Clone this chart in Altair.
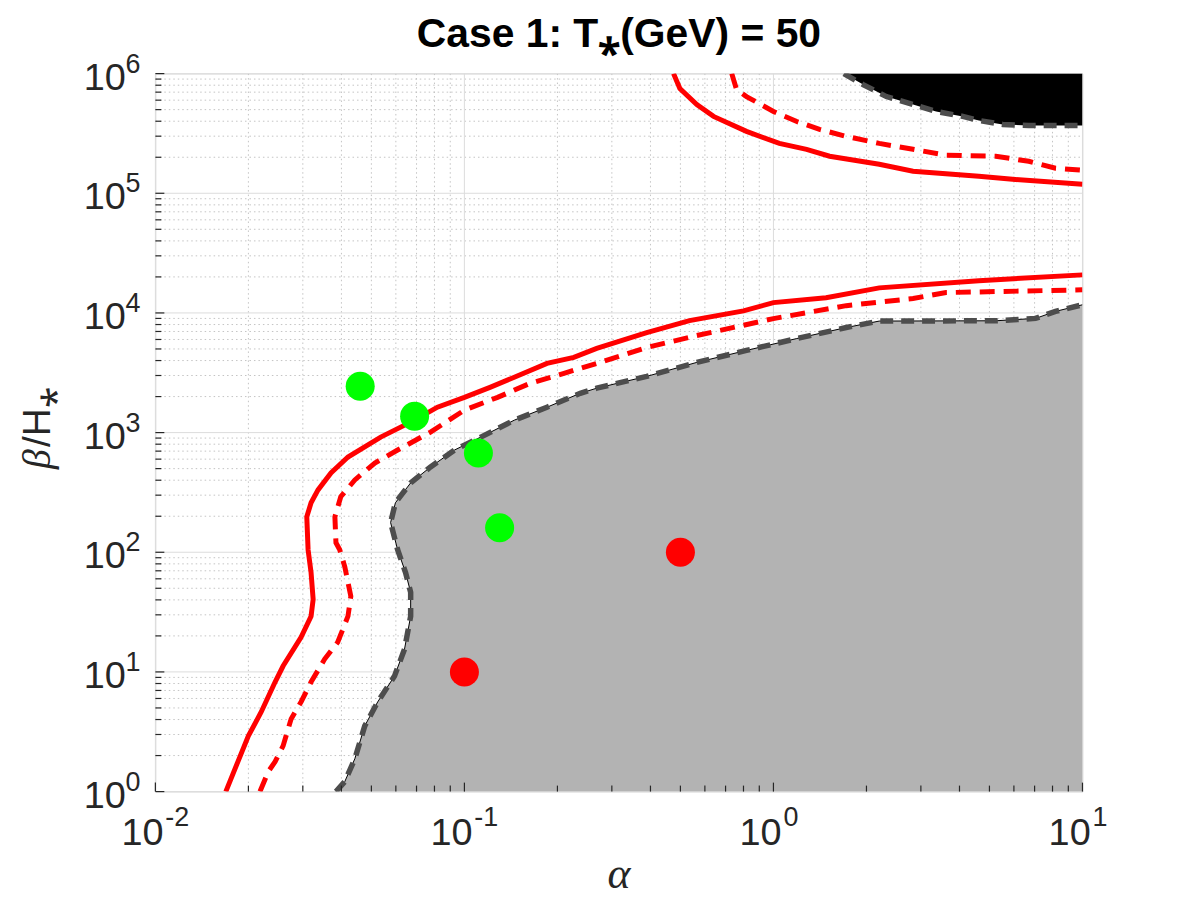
import altair as alt
import pandas as pd

W, H = 931, 721

# ---------------- data ----------------
RED_SOLID_LO_A = [0.0169, 0.0185, 0.0200, 0.0220, 0.0244, 0.0259, 0.0296, 0.0319, 0.0324, 0.0319,
                  0.0312, 0.0309, 0.0319, 0.0336, 0.0370, 0.0420, 0.0536, 0.0690, 0.0818, 0.100,
                  0.121, 0.145, 0.185, 0.226, 0.268, 0.389, 0.535, 0.80, 1.0, 1.48, 2.20, 4.62, 10]
RED_SOLID_LO_B = [1, 1.78, 2.92, 4.63, 8.23, 11.2, 19.5, 29.2, 40.4, 67.7,
                  105, 198, 259, 332, 460, 625, 917, 1270, 1630, 1970,
                  2390, 2900, 3790, 4250, 5050, 6860, 8630, 10400, 12200, 13400, 16200, 18600, 20800]
RED_DASH_LO_A = [0.0218, 0.0232, 0.0244, 0.0259, 0.0275, 0.0296, 0.0319, 0.0353, 0.0389, 0.0420,
                 0.0429, 0.0410, 0.0395, 0.0384, 0.0381, 0.0398, 0.0442, 0.0513, 0.0608, 0.0777,
                 0.100, 0.128, 0.163, 0.210, 0.268, 0.389, 0.565, 1.0, 1.72, 2.83, 3.62, 10]
RED_DASH_LO_B = [1, 1.47, 1.78, 2.41, 4.05, 5.61, 8.23, 12.8, 17.7, 29.2,
                 42.8, 76, 105, 120, 198, 291, 402, 557, 715, 1010,
                 1540, 1970, 2580, 3130, 3790, 5150, 6470, 8970, 11500, 13200, 14800, 15600]
RED_SOLID_HI_A = [0.475, 0.498, 0.565, 0.640, 0.818, 1.045, 1.28, 1.52, 2.20, 2.83, 4.62, 5.94, 10]
RED_SOLID_HI_B = [1e6, 7.5e5, 5.52e5, 4.39e5, 3.29e5, 2.61e5, 2.33e5, 2.04e5, 1.75e5, 1.53e5,
                  1.39e5, 1.31e5, 1.19e5]
RED_DASH_HI_A = [0.733, 0.760, 0.818, 1.0, 1.19, 1.41, 1.72, 2.20, 2.83, 3.62, 5.24, 6.70, 8.18, 10]
RED_DASH_HI_B = [1e6, 7.36e5, 6.43e5, 4.83e5, 3.98e5, 3.42e5, 2.99e5, 2.61e5, 2.33e5, 2.08e5,
                 2.04e5, 1.85e5, 1.62e5, 1.56e5]
GREY_A = [0.0384, 0.0410, 0.0442, 0.0476, 0.0524, 0.0594, 0.0640, 0.0670, 0.0670, 0.0645,
          0.0608, 0.0577, 0.0598, 0.0670, 0.0777, 0.0929, 0.113, 0.145, 0.185, 0.237,
          0.268, 0.389, 0.565, 0.818, 1.19, 1.72, 2.20, 5.24, 7.05, 8.18, 10]
GREY_B = [1, 1.21, 1.88, 3.54, 5.61, 9.23, 15.5, 29.2, 46.2, 67.7,
          105, 177, 259, 380, 516, 715, 917, 1270, 1630, 2130,
          2350, 2950, 3860, 4860, 6110, 7550, 8550, 8600, 9000, 10300, 11700]
BLACK_A = [1.69, 1.95, 2.32, 2.83, 3.36, 4.10, 4.62, 5.52, 6.70, 10]
BLACK_B = [1e6, 8.1e5, 6.43e5, 5.52e5, 4.83e5, 4.39e5, 4.06e5, 3.76e5, 3.69e5, 3.69e5]
GREEN_A = [0.046, 0.069, 0.111, 0.130]
GREEN_B = [2440, 1370, 675, 160]
REDPT_A = [0.5, 0.1]
REDPT_B = [100, 10]

A_MAX, B_MAX = 10, 1e6

X_MAJOR = [0.01, 0.1, 1, 10]
X_EXP = ["-2", "-1", "0", "1"]
Y_MAJOR = [1, 10, 100, 1e3, 1e4, 1e5, 1e6]
Y_EXP = ["0", "1", "2", "3", "4", "5", "6"]
MULTS = [2, 3, 4, 5, 6, 7, 8, 9]
X_MINOR = [m * d for d in [0.01, 0.1, 1] for m in MULTS]
Y_MINOR = [m * d for d in [1, 10, 100, 1e3, 1e4, 1e5] for m in MULTS]

TITLE = "Case 1: T⁎(GeV) = 50"


def frame(a, b):
    return pd.DataFrame({"a": a, "b": b, "i": list(range(len(a)))})


XS = alt.Scale(type="log", domain=[0.01, 10])
YS = alt.Scale(type="log", domain=[1, 1e6])
INK = "#262626"
FONT = "Liberation Sans"

XAXIS = alt.Axis(grid=False, ticks=False, labels=False, domain=True, domainColor=INK,
                 domainWidth=1.3, zindex=1, title="")
YAXIS = alt.Axis(grid=False, ticks=False, labels=False, domain=True, domainColor=INK,
                 domainWidth=1.3, zindex=1, title="")


def X(axis=None, f="a"):
    return alt.X(f"{f}:Q", scale=XS, axis=axis)


def Y(axis=None, f="b"):
    return alt.Y(f"{f}:Q", scale=YS, axis=axis)


xminor = pd.DataFrame({"a": X_MINOR})
yminor = pd.DataFrame({"b": Y_MINOR})
xmajor = pd.DataFrame({"a": X_MAJOR, "e": X_EXP})
ymajor = pd.DataFrame({"b": Y_MAJOR, "e": Y_EXP})

layers = []
layers.append(alt.Chart(xminor).mark_rule(color="#c4c4c4", strokeWidth=1, strokeDash=[1.5, 3])
              .encode(x=X(), y=alt.value(0), y2=alt.value(H)))
layers.append(alt.Chart(yminor).mark_rule(color="#c4c4c4", strokeWidth=1, strokeDash=[1.5, 3])
              .encode(y=Y(), x=alt.value(0), x2=alt.value(W)))
layers.append(alt.Chart(xmajor).mark_rule(color="#dcdcdc", strokeWidth=1)
              .encode(x=X(XAXIS), y=alt.value(0), y2=alt.value(H)))
layers.append(alt.Chart(ymajor).mark_rule(color="#dcdcdc", strokeWidth=1)
              .encode(y=Y(YAXIS), x=alt.value(0), x2=alt.value(W)))

grey = frame(GREY_A, GREY_B)
black = frame(BLACK_A, BLACK_B)
layers.append(alt.Chart(grey).transform_calculate(a2=str(A_MAX))
              .mark_area(orient="horizontal", color="#b3b3b3", opacity=1, clip=True)
              .encode(y=Y(), x=X(), x2="a2:Q"))
layers.append(alt.Chart(black).transform_calculate(b2=str(B_MAX))
              .mark_area(orient="vertical", color="black", opacity=1, clip=True)
              .encode(x=X(), y=Y(), y2="b2:Q"))
layers.append(alt.Chart(grey).mark_line(color="black", strokeWidth=1, clip=True)
              .encode(x=X(), y=Y(), order=alt.Order("i:Q")))
for df in (grey, black):
    layers.append(alt.Chart(df).mark_line(color="#4d4d4d", strokeWidth=5.5, strokeDash=[13, 8], clip=True)
                  .encode(x=X(), y=Y(), order=alt.Order("i:Q")))

for a, b, dash in ((RED_SOLID_LO_A, RED_SOLID_LO_B, False), (RED_DASH_LO_A, RED_DASH_LO_B, True),
                   (RED_SOLID_HI_A, RED_SOLID_HI_B, False), (RED_DASH_HI_A, RED_DASH_HI_B, True)):
    if dash:
        mk = alt.Chart(frame(a, b)).mark_line(color="#ff0000", strokeWidth=5, strokeDash=[15, 9], clip=True)
    else:
        mk = alt.Chart(frame(a, b)).mark_line(color="#ff0000", strokeWidth=5, clip=True)
    layers.append(mk.encode(x=X(), y=Y(), order=alt.Order("i:Q")))

layers.append(alt.Chart(frame(GREEN_A, GREEN_B)).mark_circle(size=850, color="#00ff00", opacity=1)
              .encode(x=X(), y=Y()))
layers.append(alt.Chart(frame(REDPT_A, REDPT_B)).mark_circle(size=850, color="#ff0000", opacity=1)
              .encode(x=X(), y=Y()))

# inward ticks
layers.append(alt.Chart(xmajor).mark_rule(color=INK, strokeWidth=1.2)
              .encode(x=X(), y=alt.value(H), y2=alt.value(H - 9)))
layers.append(alt.Chart(xminor).mark_rule(color=INK, strokeWidth=1.2)
              .encode(x=X(), y=alt.value(H), y2=alt.value(H - 6)))
layers.append(alt.Chart(ymajor).mark_rule(color=INK, strokeWidth=1.2)
              .encode(y=Y(), x=alt.value(0), x2=alt.value(9)))
layers.append(alt.Chart(yminor).mark_rule(color=INK, strokeWidth=1.2)
              .encode(y=Y(), x=alt.value(0), x2=alt.value(6)))

# tick labels: "10" plus raised exponent (both left-anchored)
layers.append(alt.Chart(ymajor).mark_text(text="10", align="left", baseline="alphabetic", fontSize=38,
                                          font=FONT, color=INK, dy=16)
              .encode(y=Y(), x=alt.value(-72)))
layers.append(alt.Chart(ymajor).mark_text(align="left", baseline="alphabetic", fontSize=27,
                                          font=FONT, color=INK, dy=-1)
              .encode(y=Y(), x=alt.value(-30), text="e:N"))
layers.append(alt.Chart(xmajor).mark_text(text="10", align="left", baseline="alphabetic", fontSize=38,
                                          font=FONT, color=INK, dx=-34)
              .encode(x=X(), y=alt.value(H + 54)))
layers.append(alt.Chart(xmajor).mark_text(align="left", baseline="alphabetic", fontSize=27,
                                          font=FONT, color=INK, dx=10)
              .encode(x=X(), y=alt.value(H + 35), text="e:N"))

# axis titles
layers.append(alt.Chart(pd.DataFrame({"t": ["α"]})).mark_text(
    align="center", baseline="alphabetic", font="Liberation Serif", fontStyle="italic",
    fontSize=44, color=INK).encode(x=alt.value(W / 2), y=alt.value(H + 97), text="t:N"))
layers.append(alt.Chart(pd.DataFrame({"t": ["β"]})).mark_text(
    angle=270, align="left", baseline="alphabetic", font="Liberation Serif", fontStyle="italic",
    fontSize=40, color=INK).encode(x=alt.value(-106), y=alt.value(397), text="t:N"))
layers.append(alt.Chart(pd.DataFrame({"t": ["/H⁎"]})).mark_text(
    angle=270, align="left", baseline="alphabetic", font=FONT, fontSize=39,
    color=INK).encode(x=alt.value(-106), y=alt.value(375), text="t:N"))

chart = alt.layer(*layers).properties(
    width=W, height=H,
    title=alt.TitleParams(TITLE, font=FONT, fontSize=41, fontWeight="bold", color="black",
                          anchor="middle", offset=-5),
    autosize=alt.AutoSizeParams(type="none"),
    padding={"left": 148, "top": 64, "right": 110, "bottom": 110},
).configure_view(strokeWidth=0).configure(background="white")

chart.save("out.html", embed_options={"renderer": "svg", "actions": False})
